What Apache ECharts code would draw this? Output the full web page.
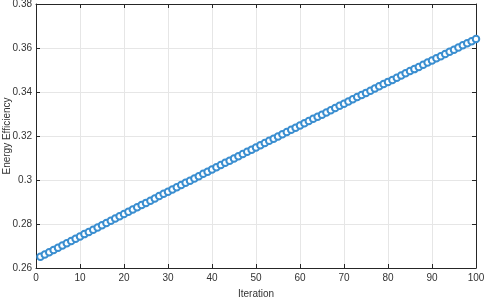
<!DOCTYPE html>
<html>
<head>
<meta charset="utf-8">
<script src="https://cdn.jsdelivr.net/npm/echarts@6/dist/echarts.min.js"></script>
<style>
html,body{margin:0;padding:0;background:#fff;}
#c{width:485px;height:298px;}
</style>
</head>
<body>
<div id="c"></div>
<script>
const iterations = [];
for (let i = 1; i <= 100; i++) iterations.push(i);
const energyEfficiency = [
0.2651,0.2661,0.2672,0.2682,0.2692,0.2702,0.2713,0.2723,0.2733,0.2743,
0.2754,0.2764,0.2774,0.2784,0.2794,0.2805,0.2815,0.2825,0.2835,0.2845,
0.2856,0.2866,0.2876,0.2886,0.2896,0.2906,0.2916,0.2927,0.2937,0.2947,
0.2957,0.2967,0.2977,0.2987,0.2997,0.3007,0.3017,0.3028,0.3038,0.3048,
0.3058,0.3068,0.3078,0.3088,0.3098,0.3108,0.3118,0.3128,0.3138,0.3148,
0.3158,0.3168,0.3178,0.3188,0.3198,0.3208,0.3218,0.3228,0.3238,0.3248,
0.3258,0.3268,0.3278,0.3287,0.3297,0.3307,0.3317,0.3327,0.3337,0.3347,
0.3357,0.3367,0.3377,0.3386,0.3396,0.3406,0.3416,0.3426,0.3436,0.3446,
0.3455,0.3465,0.3475,0.3485,0.3495,0.3504,0.3514,0.3524,0.3534,0.3543,
0.3553,0.3563,0.3573,0.3583,0.3592,0.3602,0.3612,0.3622,0.3631,0.3641
];
const xTicks = [0,10,20,30,40,50,60,70,80,90,100];
const yTicks = [0.26,0.28,0.3,0.32,0.34,0.36,0.38];

const axisColor = '#262626';
const textColor = '#333333';
const font = 'Liberation Sans, Arial, sans-serif';
const chart = echarts.init(document.getElementById('c'), null, {renderer:'canvas'});
const baseX = {
  type:'value', min:xTicks[0], max:xTicks[xTicks.length-1], interval:10,
  axisLine:{show:true, onZero:false, lineStyle:{color:axisColor, width:1}},
  axisTick:{show:true, inside:true, length:4, lineStyle:{color:axisColor}},
  splitLine:{show:false}
};
const baseY = {
  type:'value', min:yTicks[0], max:yTicks[yTicks.length-1], interval:0.02,
  axisLine:{show:true, onZero:false, lineStyle:{color:axisColor, width:1}},
  axisTick:{show:true, inside:true, length:4, lineStyle:{color:axisColor}},
  splitLine:{show:false}
};
chart.setOption({
  animation:false,
  backgroundColor:'#ffffff',
  grid:{left:36, right:9, top:4, bottom:30, containLabel:false, outerBoundsMode:'none'},
  xAxis:[
    Object.assign({}, baseX, {
      position:'bottom',
      name:'Iteration', nameLocation:'middle', nameGap:21, nameMoveOverlap:false,
      nameTextStyle:{color:textColor, fontFamily:font, fontSize:10},
      axisLabel:{color:textColor, fontFamily:font, fontSize:10, margin:5},
      splitLine:{show:true, lineStyle:{color:'#e6e6e6', width:1}}
    }),
    Object.assign({}, baseX, {position:'top', axisLabel:{show:false}})
  ],
  yAxis:[
    Object.assign({}, baseY, {
      position:'left',
      name:'Energy Efficiency', nameLocation:'middle', nameGap:24, nameMoveOverlap:false,
      nameTextStyle:{color:textColor, fontFamily:font, fontSize:10},
      axisLabel:{color:textColor, fontFamily:font, fontSize:10, margin:4},
      splitLine:{show:true, lineStyle:{color:'#e6e6e6', width:1}}
    }),
    Object.assign({}, baseY, {position:'right', axisLabel:{show:false}})
  ],
  series:[{
    type:'line',
    data:iterations.map((x,i)=>[x, energyEfficiency[i]]),
    xAxisIndex:0, yAxisIndex:0,
    color:'#3a8ed0',
    showSymbol:true, symbol:'emptyCircle', symbolSize:6.5,
    lineStyle:{color:'#3a8ed0', width:0.7},
    itemStyle:{borderColor:'#3a8ed0', borderWidth:0.7},
    emphasis:{disabled:true}
  }]
});
</script>
</body>
</html>
